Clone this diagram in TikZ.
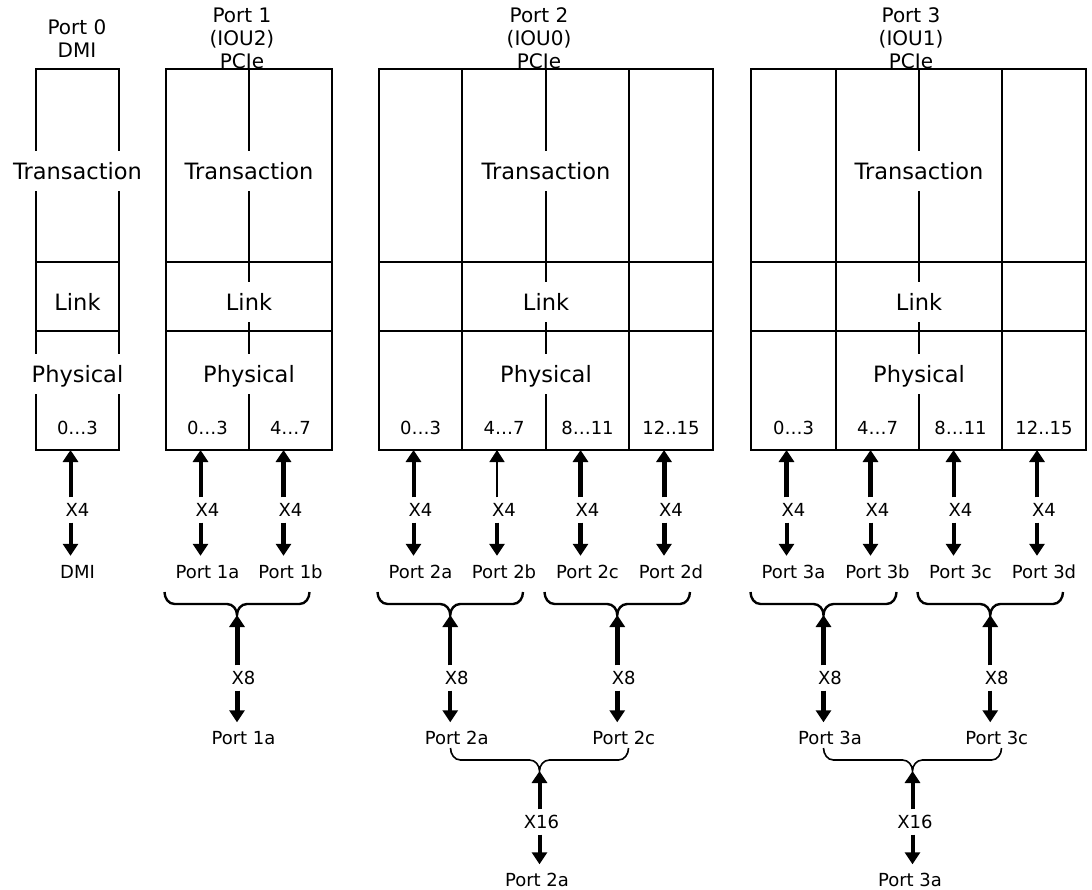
\documentclass[tikz,border=0pt]{standalone}
\usepackage{fontspec}
\setmainfont{DejaVu Sans}
\usetikzlibrary{arrows.meta,calc}

% curly brace opening upwards between two end points, cusp pointing down
\def\bracer{10}
\def\bracebar{12}
\def\bracetip{23}
\newcommand\bracebelow[4][]{%
  \path ($(#2)!0.5!(#3)$) coordinate (#4-m);
  \draw[#1] (#2) to[out=-90,in=180] ($(#2)+(\bracer,\bracebar)$)
    -- ($(#4-m)+(-\bracer,\bracebar)$) to[out=0,in=90] ($(#4-m)+(0,\bracetip)$) coordinate (#4)
    to[out=90,in=180] ($(#4-m)+(\bracer,\bracebar)$)
    -- ($(#3)+(-\bracer,\bracebar)$) to[out=0,in=-90] (#3);
}

\begin{document}
\begin{tikzpicture}[x=1pt,y=-1pt,
  frame/.style={line width=2pt},
  layer/.style={font=\fontsize{22.5}{27}\selectfont, fill=white,
    text height=16.4pt, text depth=0pt, inner ysep=11.5pt, inner xsep=2pt},
  tag/.style={font=\fontsize{18}{22}\selectfont, text height=13pt,
    text depth=0pt, inner ysep=6pt, inner xsep=1pt},
  heading/.style={font=\fontsize{20}{23}\selectfont, align=center, inner sep=0pt},
  wire/.style={line width=4pt, -{Triangle[width=15pt,length=12pt]}},
  heavywire/.style={wire, line width=5pt},
  thinwire/.style={wire, line width=1.5pt},
  upbrace/.style={line width=2.4pt},
  lowbrace/.style={line width=1.6pt},
]
\useasboundingbox (0,0) rectangle (1092,890);

% port headings
\node[heading] (h0) at (77,38.8) {Port 0\\DMI};
\node[heading] (h1) at (242,38.3) {Port 1\\(IOU2)\\PCIe};
\node[heading] (h2) at (539,38.3) {Port 2\\(IOU0)\\PCIe};
\node[heading] (h3) at (911,38.3) {Port 3\\(IOU1)\\PCIe};

% protocol stacks
\draw[frame] (36,69) rectangle (119,450) (36,262) -- (119,262) (36,331) -- (119,331);
\draw[frame] (166,69) rectangle (332,450) (166,262) -- (332,262) (166,331) -- (332,331)
  (249,69) -- (249,450);
\draw[frame] (379,69) rectangle (713,450) (379,262) -- (713,262) (379,331) -- (713,331)
  (462,69) -- (462,450) (546,69) -- (546,450) (629,69) -- (629,450);
\draw[frame] (751,69) rectangle (1086,450) (751,262) -- (1086,262) (751,331) -- (1086,331)
  (836,69) -- (836,450) (919,69) -- (919,450) (1002,69) -- (1002,450);

% layer names
\foreach \id/\cx in {0/77.5, 1/249, 2/546, 3/919} {
  \node[layer] (tr\id) at (\cx,171) {Transaction};
  \node[layer] (lk\id) at (\cx,302) {Link};
  \node[layer] (ph\id) at (\cx,374) {Physical};
}

% x4 lanes
\foreach \id/\cx/\ua/\da/\lane/\port in {
  00/77.5/wire/wire/0…3/DMI,
  10/207.5/wire/wire/0…3/Port 1a,
  11/290.5/heavywire/heavywire/4…7/Port 1b,
  20/420.5/wire/wire/0…3/Port 2a,
  21/504/thinwire/wire/4…7/Port 2b,
  22/587.5/heavywire/heavywire/8…11/Port 2c,
  23/671/heavywire/heavywire/12..15/Port 2d,
  30/793.5/heavywire/wire/0…3/Port 3a,
  31/877.5/heavywire/wire/4…7/Port 3b,
  32/960.5/wire/wire/8…11/Port 3c,
  33/1044/wire/wire/12..15/Port 3d} {
  \node[tag, inner ysep=0pt] (n\id) at (\cx,428) {\lane};
  \node[tag] (x\id) at (\cx,510) {X4};
  \node[tag] (p\id) at (\cx,571.5) {\port};
  \coordinate (a\id) at (\cx-7,450);
  \draw[\ua] (x\id.north -| a\id) -- (a\id);
  \draw[\da, shorten >=3pt] (x\id.south -| a\id) -- (p\id.north -| a\id);
}

% x8 groupings
\coordinate (u1L) at (164.5,592);  \coordinate (u1R) at (309.5,592);
\coordinate (u2L) at (377.5,592);  \coordinate (u2R) at (523,592);
\coordinate (u3L) at (544.5,592);  \coordinate (u3R) at (690,592);
\coordinate (u4L) at (750.5,592);  \coordinate (u4R) at (896.5,592);
\coordinate (u5L) at (917.5,592);  \coordinate (u5R) at (1063,592);
\bracebelow[upbrace]{u1L}{u1R}{c1}
\bracebelow[upbrace]{u2L}{u2R}{c2}
\bracebelow[upbrace]{u3L}{u3R}{c3}
\bracebelow[upbrace]{u4L}{u4R}{c4}
\bracebelow[upbrace]{u5L}{u5R}{c5}

\foreach \id/\ua/\port in {1/heavywire/Port 1a, 2/wire/Port 2a, 3/heavywire/Port 2c,
  4/heavywire/Port 3a, 5/wire/Port 3c} {
  \node[tag] (y\id) at ($(c\id)+(6.5,0)$) {};
  \node[tag] (e\id) at (y\id |- 0,678) {X8};
  \node[tag] (q\id) at (y\id |- 0,738) {\port};
  \draw[\ua] (e\id.north -| c\id) -- (c\id);
  \draw[\ua, shorten >=3pt] (e\id.south -| c\id) -- (q\id.north -| c\id);
}

% x16 groupings
\coordinate (w1L) at (450.5,748); \coordinate (w1R) at (628.5,748);
\coordinate (w2L) at (823.5,748); \coordinate (w2R) at (1001.5,748);
\bracebelow[lowbrace]{w1L}{w1R}{d1}
\bracebelow[lowbrace]{w2L}{w2R}{d2}

\node[tag] (s1) at (541.5,822) {X16};
\node[tag] (r1) at (537,880) {Port 2a};
\node[tag] (s2) at (915,822) {X16};
\node[tag] (r2) at (910,880) {Port 3a};
\draw[wire] (s1.north -| d1) -- (d1);
\draw[wire, shorten >=3pt] (s1.south -| d1) -- (r1.north -| d1);
\draw[wire] (s2.north -| d2) -- (d2);
\draw[wire, shorten >=3pt] (s2.south -| d2) -- (r2.north -| d2);
\end{tikzpicture}
\end{document}
